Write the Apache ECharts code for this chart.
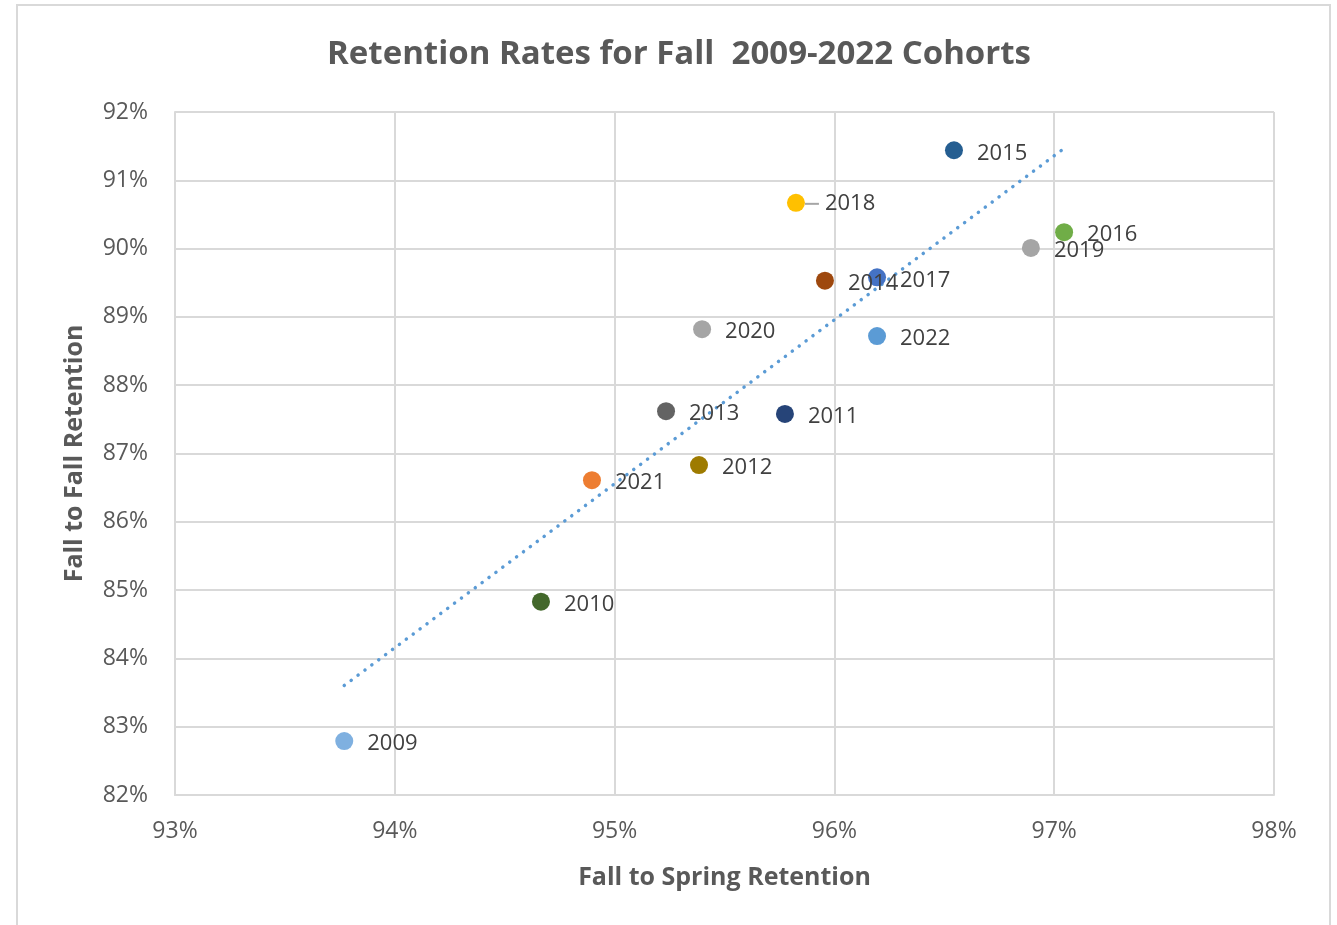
<!DOCTYPE html>
<html>
<head>
<meta charset="utf-8">
<script src="https://cdn.jsdelivr.net/npm/echarts@6/dist/echarts.min.js"></script>
<style>
html,body{margin:0;padding:0;background:#fff;}
#chart{width:1337px;height:925px;}
</style>
</head>
<body>
<div id="chart"></div>
<script>
const years = ['2009','2010','2011','2012','2013','2014','2015','2016','2017','2018','2019','2020','2021','2022'];
const fallToSpring = [93.77, 94.665, 95.775, 95.384, 95.234, 95.957, 96.544, 97.045, 96.194, 95.825, 96.894, 95.398, 94.897, 96.194];
const fallToFall   = [82.79, 84.83, 87.58, 86.83, 87.62, 89.53, 91.44, 90.24, 89.58, 90.67, 90.01, 88.82, 86.61, 88.72];
const pointColors = ['#7FB0E0','#43682B','#264478','#9E7B00','#636363','#9E480E','#255E91','#70AD47','#4472C4','#FFC000','#A5A5A5','#A5A5A5','#ED7D31','#5B9BD5'];
const xTicks = [93, 94, 95, 96, 97, 98];
const yTicks = [82, 83, 84, 85, 86, 87, 88, 89, 90, 91, 92];

// linear trendline (least squares) from the data
const n = fallToSpring.length;
const mx = fallToSpring.reduce((a,b)=>a+b,0)/n;
const my = fallToFall.reduce((a,b)=>a+b,0)/n;
let sxy=0, sxx=0;
for (let i=0;i<n;i++){ sxy += (fallToSpring[i]-mx)*(fallToFall[i]-my); sxx += (fallToSpring[i]-mx)**2; }
const slope = sxy/sxx, intercept = my - slope*mx;
const xMin = Math.min(...fallToSpring), xMax = Math.max(...fallToSpring);
const trend = [[xMin, intercept+slope*xMin],[xMax, intercept+slope*xMax]];

const chart = echarts.init(document.getElementById('chart'));
const fontFam = '"Open Sans", "Noto Sans", sans-serif';

const points = years.map((y,i)=>{
  const item = {value:[fallToSpring[i], fallToFall[i]], name:y, itemStyle:{color:pointColors[i], opacity:1}};
  if (y === '2018') {
    item.label = {
      distance: 0, offset:[0,1],
      formatter: p => '{ln|}{sp|}{t|' + p.name + '}',
      rich:{
        ln:{width:14, height:2, backgroundColor:'#A6A6A6', verticalAlign:'middle'},
        sp:{width:6, height:2},
        t:{fontFamily:fontFam, fontSize:22, color:'#404040', verticalAlign:'middle'}
      }
    };
  }
  return item;
});

chart.setOption({
  animation:false,
  graphic:[{type:'rect', shape:{x:17, y:5, width:1313, height:930}, style:{fill:'none', stroke:'#D9D9D9', lineWidth:2}, silent:true}],
  title:{
    text:'Retention Rates for Fall  2009-2022 Cohorts',
    left:674, top:33, textAlign:'center',
    textStyle:{fontFamily:fontFam, fontSize:33, fontWeight:'bold', color:'#595959'}
  },
  grid:{left:175, top:112, width:1099, height:683, containLabel:false},
  xAxis:{
    type:'value', min:xTicks[0], max:xTicks[xTicks.length-1], interval:1,
    name:'Fall to Spring Retention', nameLocation:'middle', nameGap:70,
    nameTextStyle:{fontFamily:fontFam, fontSize:25, fontWeight:'bold', color:'#595959'},
    axisLine:{show:true, lineStyle:{color:'#D9D9D9', width:2}},
    axisTick:{show:false},
    splitLine:{show:true, lineStyle:{color:'#D9D9D9', width:2}},
    axisLabel:{formatter:v=>v+'%', fontFamily:fontFam, fontSize:23, color:'#595959', margin:25}
  },
  yAxis:{
    type:'value', min:yTicks[0], max:yTicks[yTicks.length-1], interval:1,
    name:'Fall to Fall Retention', nameLocation:'middle', nameGap:88,
    nameTextStyle:{fontFamily:fontFam, fontSize:25, fontWeight:'bold', color:'#595959'},
    axisLine:{show:true, lineStyle:{color:'#D9D9D9', width:2}},
    axisTick:{show:false},
    splitLine:{show:true, lineStyle:{color:'#D9D9D9', width:2}},
    axisLabel:{formatter:v=>v+'%', fontFamily:fontFam, fontSize:23, color:'#595959', margin:27}
  },
  series:[
    {
      type:'line', data:trend, symbol:'none', silent:true, z:3,
      lineStyle:{color:'#5B9BD5', width:3.5, type:[0.1,8.5], cap:'round'}
    },
    {
      type:'scatter', data:points, symbolSize:18, z:4,
      itemStyle:{opacity:1},
      label:{show:true, position:'right', distance:14, offset:[0,3], formatter:p=>p.name,
        fontFamily:fontFam, fontSize:22, color:'#404040'}
    }
  ]
});
</script>
</body>
</html>
